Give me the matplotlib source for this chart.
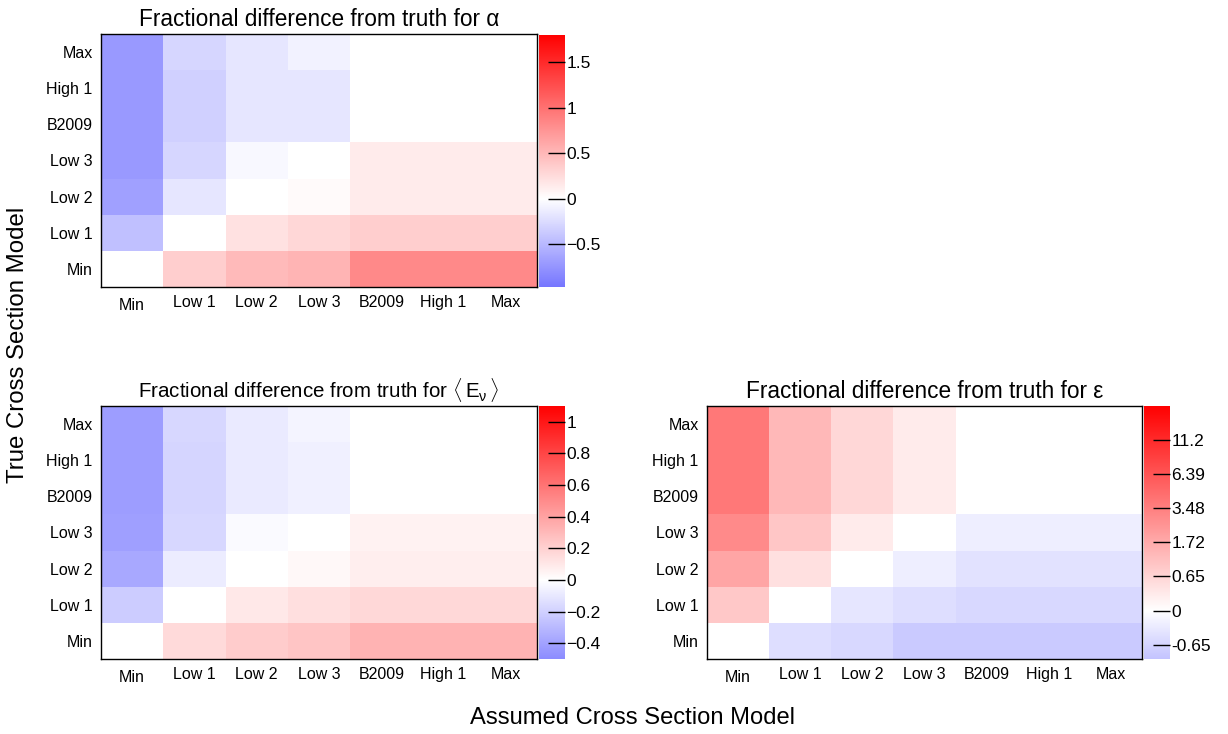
import numpy as np
import matplotlib
matplotlib.use("Agg")
import matplotlib.pyplot as plt
from matplotlib.colors import LinearSegmentedColormap, Normalize, FuncNorm

plt.rcParams['font.family'] = ['Liberation Sans', 'DejaVu Sans']
plt.rcParams['mathtext.fontset'] = 'custom'
plt.rcParams['mathtext.rm'] = 'Liberation Sans'
plt.rcParams['mathtext.it'] = 'Liberation Sans:italic'

# ---------------- data ----------------
models = ["Min", "Low 1", "Low 2", "Low 3", "B2009", "High 1", "Max"]

# rows: true model (Min ... Max, bottom to top); columns: assumed model (Min ... Max)
alpha_diff = [
    [0.00, 0.35, 0.49, 0.53, 0.83, 0.83, 0.83],      # Min
    [-0.44, 0.00, 0.21, 0.28, 0.35, 0.35, 0.35],     # Low 1
    [-0.67, -0.18, 0.00, 0.035, 0.14, 0.14, 0.14],   # Low 2
    [-0.72, -0.29, -0.05, 0.00, 0.14, 0.14, 0.14],   # Low 3
    [-0.72, -0.33, -0.18, -0.17, 0.00, 0.00, 0.00],  # B2009
    [-0.72, -0.33, -0.18, -0.17, 0.00, 0.00, 0.00],  # High 1
    [-0.72, -0.29, -0.18, -0.09, 0.00, 0.00, 0.00],  # Max
]

enu_diff = [
    [0.00, 0.16, 0.22, 0.25, 0.33, 0.33, 0.33],
    [-0.22, 0.00, 0.10, 0.14, 0.17, 0.17, 0.17],
    [-0.375, -0.08, 0.00, 0.03, 0.073, 0.073, 0.073],
    [-0.41, -0.17, -0.02, 0.00, 0.056, 0.056, 0.056],
    [-0.42, -0.18, -0.09, -0.065, 0.00, 0.00, 0.00],
    [-0.42, -0.18, -0.09, -0.065, 0.00, 0.00, 0.00],
    [-0.42, -0.17, -0.09, -0.05, 0.00, 0.00, 0.00],
]

eps_diff = [
    [0.00, -0.47, -0.58, -0.86, -0.86, -0.86, -0.86],
    [0.91, 0.00, -0.34, -0.47, -0.58, -0.58, -0.58],
    [1.89, 0.44, 0.00, -0.22, -0.40, -0.40, -0.40],
    [2.97, 0.95, 0.265, 0.00, -0.22, -0.22, -0.22],
    [3.90, 1.31, 0.60, 0.265, 0.00, 0.00, 0.00],
    [3.90, 1.31, 0.60, 0.265, 0.00, 0.00, 0.00],
    [3.90, 1.31, 0.60, 0.265, 0.00, 0.00, 0.00],
]

alpha_range = (-0.97, 1.80)
alpha_ticks = [-0.5, 0, 0.5, 1, 1.5]
alpha_ticklabels = ["\u22120.5", "0", "0.5", "1", "1.5"]

enu_range = (-0.50, 1.10)
enu_ticks = [-0.4, -0.2, 0, 0.2, 0.4, 0.6, 0.8, 1.0]
enu_ticklabels = ["\u22120.4", "\u22120.2", "0", "0.2", "0.4", "0.6", "0.8", "1"]

eps_range_t = (-0.71, 3.0)  # in transformed units
eps_ticks_t = [-0.5, 0, 0.5, 1.0, 1.5, 2.0, 2.5]
eps_ticklabels = ["-0.65", "0", "0.65", "1.72", "3.48", "6.39", "11.2"]

# ---------------- layout helpers ----------------
W, H = 1228, 734
fig = plt.figure(figsize=(W / 100, H / 100), dpi=100)


def rect(x0, y0, x1, y1):
    return [x0 / W, 1 - y1 / H, (x1 - x0) / W, (y1 - y0) / H]


def make_cmap(t_lo, t_hi):
    # symmetric blue-white-red scale (full saturation at +t_hi), truncated at t_lo
    frac = min(1.0, abs(t_lo) / t_hi)
    low = (1 - frac, 1 - frac, 1.0)
    zero_pos = (0 - t_lo) / (t_hi - t_lo)
    return LinearSegmentedColormap.from_list(
        "bwr_t", [(0, low), (zero_pos, (1, 1, 1)), (1, (1, 0, 0))], N=512)


def fwd(x):
    x = np.asarray(x, dtype=float)
    return np.sign(x) * np.log1p(np.abs(x))


def inv(y):
    y = np.asarray(y, dtype=float)
    return np.sign(y) * np.expm1(np.abs(y))


def panel(ax_rect, cb_rect, data, title, tsize, cmap, norm, ticks, ticklabels):
    ax = fig.add_axes(rect(*ax_rect))
    edges = np.arange(len(models) + 1)
    mesh = ax.pcolormesh(edges, edges, np.array(data), cmap=cmap, norm=norm)
    ax.set_xlim(0, 7)
    ax.set_ylim(0, 7)
    centers = np.arange(len(models)) + 0.5
    ax.set_xticks(centers)
    ax.set_xticklabels(models, fontsize=11.5)
    ax.set_yticks(centers)
    ax.set_yticklabels(models, fontsize=11.5)
    ax.tick_params(length=0, pad=6)
    ax.get_xticklabels()[0].set_y(-0.012)
    for s in ax.spines.values():
        s.set_linewidth(1.0)
    ax.set_title(title, fontsize=tsize, pad=6)

    cax = fig.add_axes(rect(*cb_rect))
    cb = fig.colorbar(mesh, cax=cax)
    cb.outline.set_visible(False)
    cb.set_ticks(ticks)
    cb.set_ticklabels(ticklabels)
    cax.tick_params(axis='y', direction='in', length=12, width=1.0,
                    labelsize=12.5, pad=1, right=True, left=False)
    cax.minorticks_off()
    return ax


# alpha
panel((101, 34, 537, 287), (539, 35, 565, 287), alpha_diff,
      "Fractional difference from truth for \u03b1", 16.3,
      make_cmap(*alpha_range), Normalize(*alpha_range),
      alpha_ticks, alpha_ticklabels)

# <E_nu>
panel((101, 406, 537, 659), (539, 406, 565, 659), enu_diff,
      r"Fractional difference from truth for $\langle\,\mathregular{E_{\nu}}\,\rangle$", 14.8,
      make_cmap(*enu_range), Normalize(*enu_range),
      enu_ticks, enu_ticklabels)

# epsilon (log-like colour scale)
eps_norm = FuncNorm((fwd, inv), vmin=float(inv(eps_range_t[0])), vmax=float(inv(eps_range_t[1])))
panel((707, 406, 1142, 659), (1144, 406, 1170, 659), eps_diff,
      "Fractional difference from truth for \u03b5", 16.3,
      make_cmap(*eps_range_t), eps_norm,
      [float(inv(t)) for t in eps_ticks_t], eps_ticklabels)

fig.text(18 / W, 1 - 345 / H, "True Cross Section Model", rotation=90,
         ha='center', va='center', fontsize=17.3)
fig.text(632 / W, 1 - 718 / H, "Assumed Cross Section Model",
         ha='center', va='center', fontsize=17.1)

fig.savefig("out.png", dpi=100, facecolor='white')
